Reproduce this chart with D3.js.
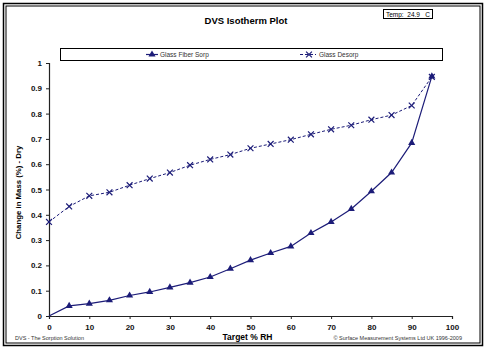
<!DOCTYPE html>
<html>
<head>
<meta charset="utf-8">
<script src="https://cdn.jsdelivr.net/npm/d3@7"></script>
<style>
  body { margin: 0; background: #fff; }
  text { font-family: "Liberation Sans", Arial, sans-serif; }
</style>
</head>
<body>
<div id="chart"></div>
<script>
// target relative humidity steps
let rhSteps = [0, 5, 10, 15, 20, 25, 30, 35, 40, 45, 50, 55, 60, 65, 70, 75, 80, 85, 90, 95];
let sorpValues = [0, 0.040, 0.049, 0.062, 0.081, 0.095, 0.113, 0.132, 0.154, 0.187, 0.221, 0.249, 0.275, 0.328, 0.372, 0.423, 0.493, 0.567, 0.684, 0.947];
let desorpValues = [0.372, 0.433, 0.475, 0.489, 0.517, 0.543, 0.567, 0.596, 0.619, 0.638, 0.663, 0.680, 0.697, 0.718, 0.738, 0.754, 0.776, 0.794, 0.832, 0.945];
let xTicks = [0, 10, 20, 30, 40, 50, 60, 70, 80, 90, 100];
let yTicks = [0, 0.1, 0.2, 0.3, 0.4, 0.5, 0.6, 0.7, 0.8, 0.9, 1];
let seriesNames = ["Glass Fiber Sorp", "Glass Desorp"];

let W = 487, H = 351;
let margin = {top: 63, right: 35, bottom: 35, left: 49};
let width = W - margin.left - margin.right;
let height = H - margin.top - margin.bottom;
let navy = "#1c1c78";

let svg = d3.select("#chart").append("svg")
    .attr("width", W)
    .attr("height", H);

// double frame round the whole picture
svg.append("rect").attr("x", 3.5).attr("y", 3.5).attr("width", 479).attr("height", 342)
    .attr("fill", "none").attr("stroke", "#000").attr("stroke-width", 1.5);
svg.append("rect").attr("x", 6).attr("y", 6).attr("width", 474).attr("height", 337)
    .attr("fill", "none").attr("stroke", "#000").attr("stroke-width", 1);

svg.append("text")
    .attr("x", 246).attr("y", 23.5)
    .attr("text-anchor", "middle")
    .style("font-size", "9.5px").style("font-weight", "bold")
    .text("DVS Isotherm Plot");

// temperature box
svg.append("rect").attr("x", 383.5).attr("y", 9.5).attr("width", 49).attr("height", 9)
    .attr("fill", "#fff").attr("stroke", "#000").attr("stroke-width", 1);
svg.append("text")
    .attr("x", 408).attr("y", 16.5)
    .attr("text-anchor", "middle")
    .style("font-size", "6.5px")
    .attr("xml:space", "preserve")
    .style("white-space", "pre")
    .text("Temp:  24.9   C");

// legend box
let legend = svg.append("g");
legend.append("rect").attr("x", 60.5).attr("y", 48.5).attr("width", 382).attr("height", 12)
    .attr("fill", "#fff").attr("stroke", "#000").attr("stroke-width", 1);

let g = svg.append("g")
    .attr("transform", "translate(" + margin.left + "," + margin.top + ")");

let xScale = d3.scaleLinear().domain([0, 100]).range([0, width]);
let yScale = d3.scaleLinear().domain([0, 1]).range([height, 0]);

let xAxis = d3.axisBottom(xScale).tickValues(xTicks).tickSize(3).tickFormat(d3.format("d"));
let yAxis = d3.axisLeft(yScale).tickValues(yTicks).tickSize(3).tickFormat(d => d === 0 || d === 1 ? d : d3.format(".1f")(d));

g.append("g")
    .attr("class", "x-axis")
    .attr("transform", `translate(0, ${height})`)
    .call(xAxis);
g.append("g")
    .attr("class", "y-axis")
    .call(yAxis);

g.selectAll(".domain").attr("stroke", "#222").attr("stroke-width", 1.2);
g.selectAll(".tick line").attr("stroke", "#222");
g.selectAll(".tick text")
    .style("font-size", "8px").style("font-weight", "bold")
    .style("font-family", "'Liberation Sans', Arial, sans-serif")
    .attr("fill", "#111");
g.select(".x-axis").selectAll(".tick text").attr("dy", "1em").attr("y", 6);
g.select(".y-axis").selectAll(".tick text").attr("x", -7);

// axis titles
g.append("text")
    .attr("text-anchor", "middle")
    .attr("x", width / 2 - 3)
    .attr("y", height + 24)
    .style("font-size", "8.5px").style("font-weight", "bold")
    .text("Target % RH");

g.append("text")
    .attr("text-anchor", "middle")
    .attr("transform", "rotate(-90)")
    .attr("x", -(height / 2) - 3)
    .attr("y", -margin.left + 21)
    .style("font-size", "7.8px").style("font-weight", "bold")
    .text("Change in Mass (%) - Dry");

// lines
let sorpData = rhSteps.map((x, i) => ({x: x, y: sorpValues[i]}));
let desorpData = rhSteps.map((x, i) => ({x: x, y: desorpValues[i]}));

let line = d3.line().x(d => xScale(d.x)).y(d => yScale(d.y));

g.append("path").datum(desorpData)
    .attr("d", line).attr("fill", "none")
    .attr("stroke", navy).attr("stroke-width", 1)
    .attr("stroke-dasharray", "3,2");

g.append("path").datum(sorpData)
    .attr("d", line).attr("fill", "none")
    .attr("stroke", navy).attr("stroke-width", 1.2);

let triangle = d3.symbol().type(d3.symbolTriangle).size(22);
let cross = d3.symbol().type(d3.symbolX).size(24);

g.selectAll(".sorp-pt").data(sorpData.slice(1))
    .enter().append("path")
    .attr("class", "sorp-pt")
    .attr("transform", d => `translate(${xScale(d.x)}, ${yScale(d.y)})`)
    .attr("d", triangle)
    .attr("fill", navy);

g.selectAll(".desorp-pt").data(desorpData)
    .enter().append("path")
    .attr("class", "desorp-pt")
    .attr("transform", d => `translate(${xScale(d.x)}, ${yScale(d.y)})`)
    .attr("d", cross)
    .attr("fill", "none")
    .attr("stroke", navy).attr("stroke-width", 1.2);

// legend entries
legend.append("line").attr("x1", 146).attr("x2", 158).attr("y1", 54.5).attr("y2", 54.5)
    .attr("stroke", navy).attr("stroke-width", 1.2);
legend.append("path").attr("transform", "translate(152,54.5)").attr("d", triangle).attr("fill", navy);
legend.append("text").attr("x", 160).attr("y", 57)
    .style("font-size", "6.5px").attr("fill", "#333").text(seriesNames[0]);

legend.append("line").attr("x1", 300).attr("x2", 316).attr("y1", 54.5).attr("y2", 54.5)
    .attr("stroke", navy).attr("stroke-width", 1).attr("stroke-dasharray", "3,2");
legend.append("path").attr("transform", "translate(309,54.5)").attr("d", cross)
    .attr("fill", "none").attr("stroke", navy).attr("stroke-width", 1.2);
legend.append("text").attr("x", 319).attr("y", 57)
    .style("font-size", "6.5px").attr("fill", "#333").text(seriesNames[1]);

// footer
svg.append("text").attr("x", 15).attr("y", 340)
    .style("font-size", "5.5px").attr("fill", "#333")
    .text("DVS - The Sorption Solution");
svg.append("text").attr("x", 462).attr("y", 340)
    .attr("text-anchor", "end")
    .style("font-size", "5.5px").attr("fill", "#333")
    .text("© Surface Measurement Systems Ltd UK 1996-2009");
</script>
</body>
</html>
